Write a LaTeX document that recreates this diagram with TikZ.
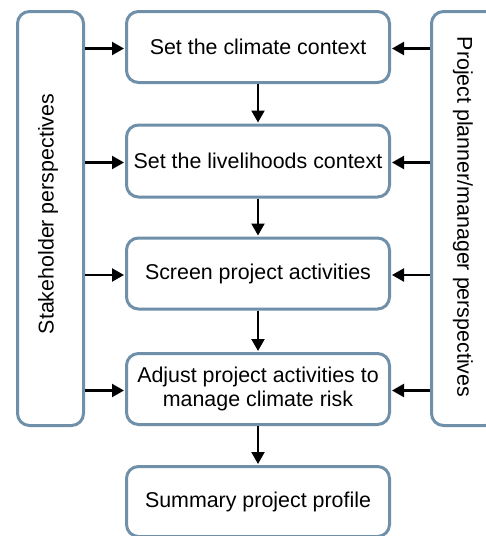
\documentclass[tikz,border=0pt]{standalone}
\usepackage{fontspec}
\setmainfont{Liberation Sans}
\usetikzlibrary{arrows.meta}
\definecolor{edgeblue}{HTML}{6F90A8}
\begin{document}
\begin{tikzpicture}[x=1pt,y=-1pt,
  box/.style={draw=edgeblue,line width=3pt,rounded corners=12pt,fill=white,inner sep=0pt,anchor=north west,align=center,font=\fontsize{21.4}{24.5}\selectfont},
  arr/.style={line width=2.2pt,-{Triangle[length=12pt,width=13pt]},shorten >=1pt}]
\useasboundingbox (0,0) rectangle (486,536);
\clip (0,0) rectangle (486,536);
\node[box,minimum width=66pt,minimum height=414pt] (L) at (16,10) {};
\node[box,minimum width=66pt,minimum height=414pt] (R) at (430,10) {};
\node[rotate=90,font=\fontsize{21.4}{24.5}\selectfont] (Lt) at (48,214) {Stakeholder perspectives};
\node[rotate=-90,font=\fontsize{21.4}{24.5}\selectfont] (Rt) at (463,217) {Project planner/manager perspectives};
\node[box,minimum width=263pt,minimum height=71pt] (b1) at (125,10) {Set the climate context};
\node[box,minimum width=263pt,minimum height=72pt] (b2) at (125,123.5) {Set the livelihoods context};
\node[box,minimum width=263pt,minimum height=71pt] (b3) at (125,236.5) {Screen project activities};
\node[box,minimum width=263pt,minimum height=71pt] (b4) at (125,352) {Adjust project activities to\\manage climate risk};
\node[box,minimum width=263pt,minimum height=70pt] (b5) at (125,465) {Summary project profile};
\foreach \b in {b1,b2,b3,b4}{
  \draw[arr] ([yshift=-1.5pt]L.east |- \b.west) -- ([yshift=-1.5pt]\b.west);
  \draw[arr] ([yshift=-1.5pt]R.west |- \b.east) -- ([yshift=-1.5pt]\b.east);
}
\draw[arr] (b1.south) -- (b2.north);
\draw[arr] (b2.south) -- (b3.north);
\draw[arr] (b3.south) -- (b4.north);
\draw[arr] (b4.south) -- (b5.north);
\end{tikzpicture}
\end{document}
